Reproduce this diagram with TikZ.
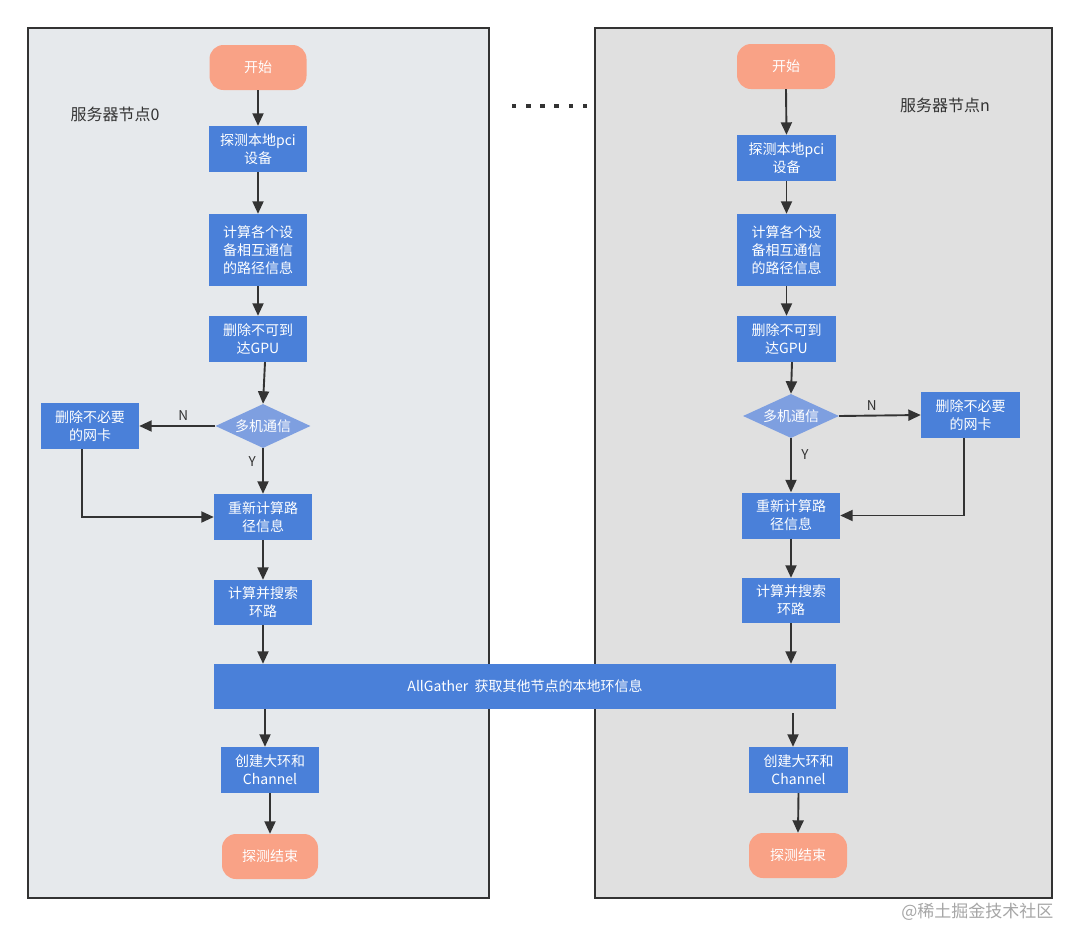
\documentclass[tikz,border=0pt]{standalone}
\usepackage{fontspec}
\setmainfont{Noto Sans CJK SC}
\usetikzlibrary{shapes.geometric,arrows.meta,positioning}
\definecolor{boxblue}{HTML}{4A80D9}
\definecolor{diablue}{HTML}{7E9FE0}
\definecolor{salmon}{HTML}{F9A286}
\definecolor{panelA}{HTML}{E6E9EC}
\definecolor{panelB}{HTML}{E0E0E0}
\definecolor{edge}{HTML}{333333}
\tikzset{
  panel/.style={draw=edge, line width=1.6pt},
  proc/.style={rectangle, fill=boxblue, text=white, inner sep=0pt, align=center,
    font=\fontsize{14}{18}\selectfont},
  term/.style={rectangle, rounded corners=14pt, fill=salmon, text=white, inner sep=0pt,
    font=\fontsize{14}{18}\selectfont},
  decide/.style={diamond, aspect=2.16, fill=diablue, text=white, inner sep=0pt,
    font=\fontsize{14}{18}\selectfont},
  flow/.style={draw=edge, line width=1.9pt, -{Triangle[length=12.5pt,width=11pt]}},
  lbl/.style={text=edge, font=\fontsize{13.5}{15}\selectfont},
  title/.style={text=edge, font=\fontsize{16}{18}\selectfont},
}
\begin{document}
\begin{tikzpicture}[x=1pt,y=-1pt]
\useasboundingbox[fill=white] (0,0) rectangle (1080,927);
% panels
\draw[panel, fill=panelA] (28,28) rectangle (489,898);
\draw[panel, fill=panelB] (595,28) rectangle (1052,898);
% dots
\foreach \i in {0,...,5} {\fill[edge] ({514+14.2*\i-2.3},103.5) rectangle ++(4.6,4.6);}
% titles
\node[title] (t0) at (115,114) {服务器节点0};
\node[title] (t1) at (945,105) {服务器节点n};

% left column
\node[term, minimum width=97pt, minimum height=45pt] (start0) at (258,67.5) {开始};
\node[proc, minimum width=98pt, minimum height=46pt] (probe0) at (258,149) {探测本地pci\\设备};
\node[proc, minimum width=98pt, minimum height=72pt] (calc0) at (258,250) {计算各个设\\备相互通信\\的路径信息};
\node[proc, minimum width=98pt, minimum height=46pt] (del0) at (258,339) {删除不可到\\达GPU};
\node[decide, minimum width=95pt, minimum height=44pt] (multi0) at (263,426) {\makebox[0pt]{多机通信}};
\node[proc, minimum width=98pt, minimum height=46pt] (nic0) at (90,426) {删除不必要\\的网卡};
\node[proc, minimum width=98pt, minimum height=46pt] (re0) at (263,517) {重新计算路\\径信息};
\node[proc, minimum width=98pt, minimum height=45pt] (ring0) at (263,602.5) {计算并搜索\\环路};
\node[proc, minimum width=622pt, minimum height=45pt] (all) at (525,686.5) {AllGather\ \ 获取其他节点的本地环信息};
\node[proc, minimum width=98pt, minimum height=46pt] (make0) at (270,770) {创建大环和\\Channel};
\node[term, minimum width=96pt, minimum height=45pt] (end0) at (270,856.5) {探测结束};

% right column
\node[term, minimum width=98pt, minimum height=45pt] (start1) at (786,66.5) {开始};
\node[proc, minimum width=99pt, minimum height=46pt] (probe1) at (786.5,158) {探测本地pci\\设备};
\node[proc, minimum width=99pt, minimum height=72pt] (calc1) at (786.5,250) {计算各个设\\备相互通信\\的路径信息};
\node[proc, minimum width=99pt, minimum height=46pt] (del1) at (786.5,339) {删除不可到\\达GPU};
\node[decide, minimum width=96pt, minimum height=44pt] (multi1) at (791,416) {\makebox[0pt]{多机通信}};
\node[proc, minimum width=99pt, minimum height=46pt] (nic1) at (970.5,415) {删除不必要\\的网卡};
\node[proc, minimum width=98pt, minimum height=46pt] (re1) at (791,515.5) {重新计算路\\径信息};
\node[proc, minimum width=98pt, minimum height=45pt] (ring1) at (791,600.5) {计算并搜索\\环路};
\node[proc, minimum width=99pt, minimum height=46pt] (make1) at (798.5,770) {创建大环和\\Channel};
\node[term, minimum width=98pt, minimum height=45pt] (end1) at (798,855.5) {探测结束};

% left arrows
\draw[flow] (start0.south) -- (probe0.north);
\draw[flow] (probe0.south) -- (calc0.north);
\draw[flow] (calc0.south) -- (del0.north);
\draw[flow] ([xshift=7pt]del0.south) -- (multi0.north);
\draw[flow] (multi0.west) -- node[lbl, above=1pt, pos=0.42] (n0) {N} (nic0.east);
\draw[flow] (multi0.south) -- node[lbl, left=3pt, pos=0.3] (y0) {Y} (re0.north);
\draw[flow] ([xshift=-8pt]nic0.south) |- (re0.west);
\draw[flow] (re0.south) -- (ring0.north);
\draw[flow] (ring0.south) -- (ring0.south |- all.north);
\draw[flow] ([xshift=-5pt]make0.north |- all.south) -- ([xshift=-5pt]make0.north);
\draw[flow] (make0.south) -- (end0.north);

% right arrows
\draw[flow] (start1.south) -- (probe1.north);
\draw[flow] (probe1.south) -- (calc1.north);
\draw[flow] (calc1.south) -- (del1.north);
\draw[flow] ([xshift=5.5pt]del1.south) -- (multi1.north);
\draw[flow] (multi1.east) -- node[lbl, above=1pt, pos=0.4] (n1) {N} (nic1.west);
\draw[flow] (multi1.south) -- node[lbl, right=6pt, pos=0.3] (y1) {Y} (re1.north);
\draw[flow] ([xshift=-6.5pt]nic1.south) |- (re1.east);
\draw[flow] (re1.south) -- (ring1.north);
\draw[flow] (ring1.south) -- (ring1.south |- all.north);
\draw[flow] ([xshift=-5.5pt,yshift=-4pt]make1.north |- all.south) -- ([xshift=-5.5pt]make1.north);
\draw[flow] (make1.south) -- (end1.north);

% watermark
\node[text=gray!70, font=\fontsize{17}{18}\selectfont, anchor=east] (wm) at (1057,912) {@稀土掘金技术社区};
\end{tikzpicture}
\end{document}
